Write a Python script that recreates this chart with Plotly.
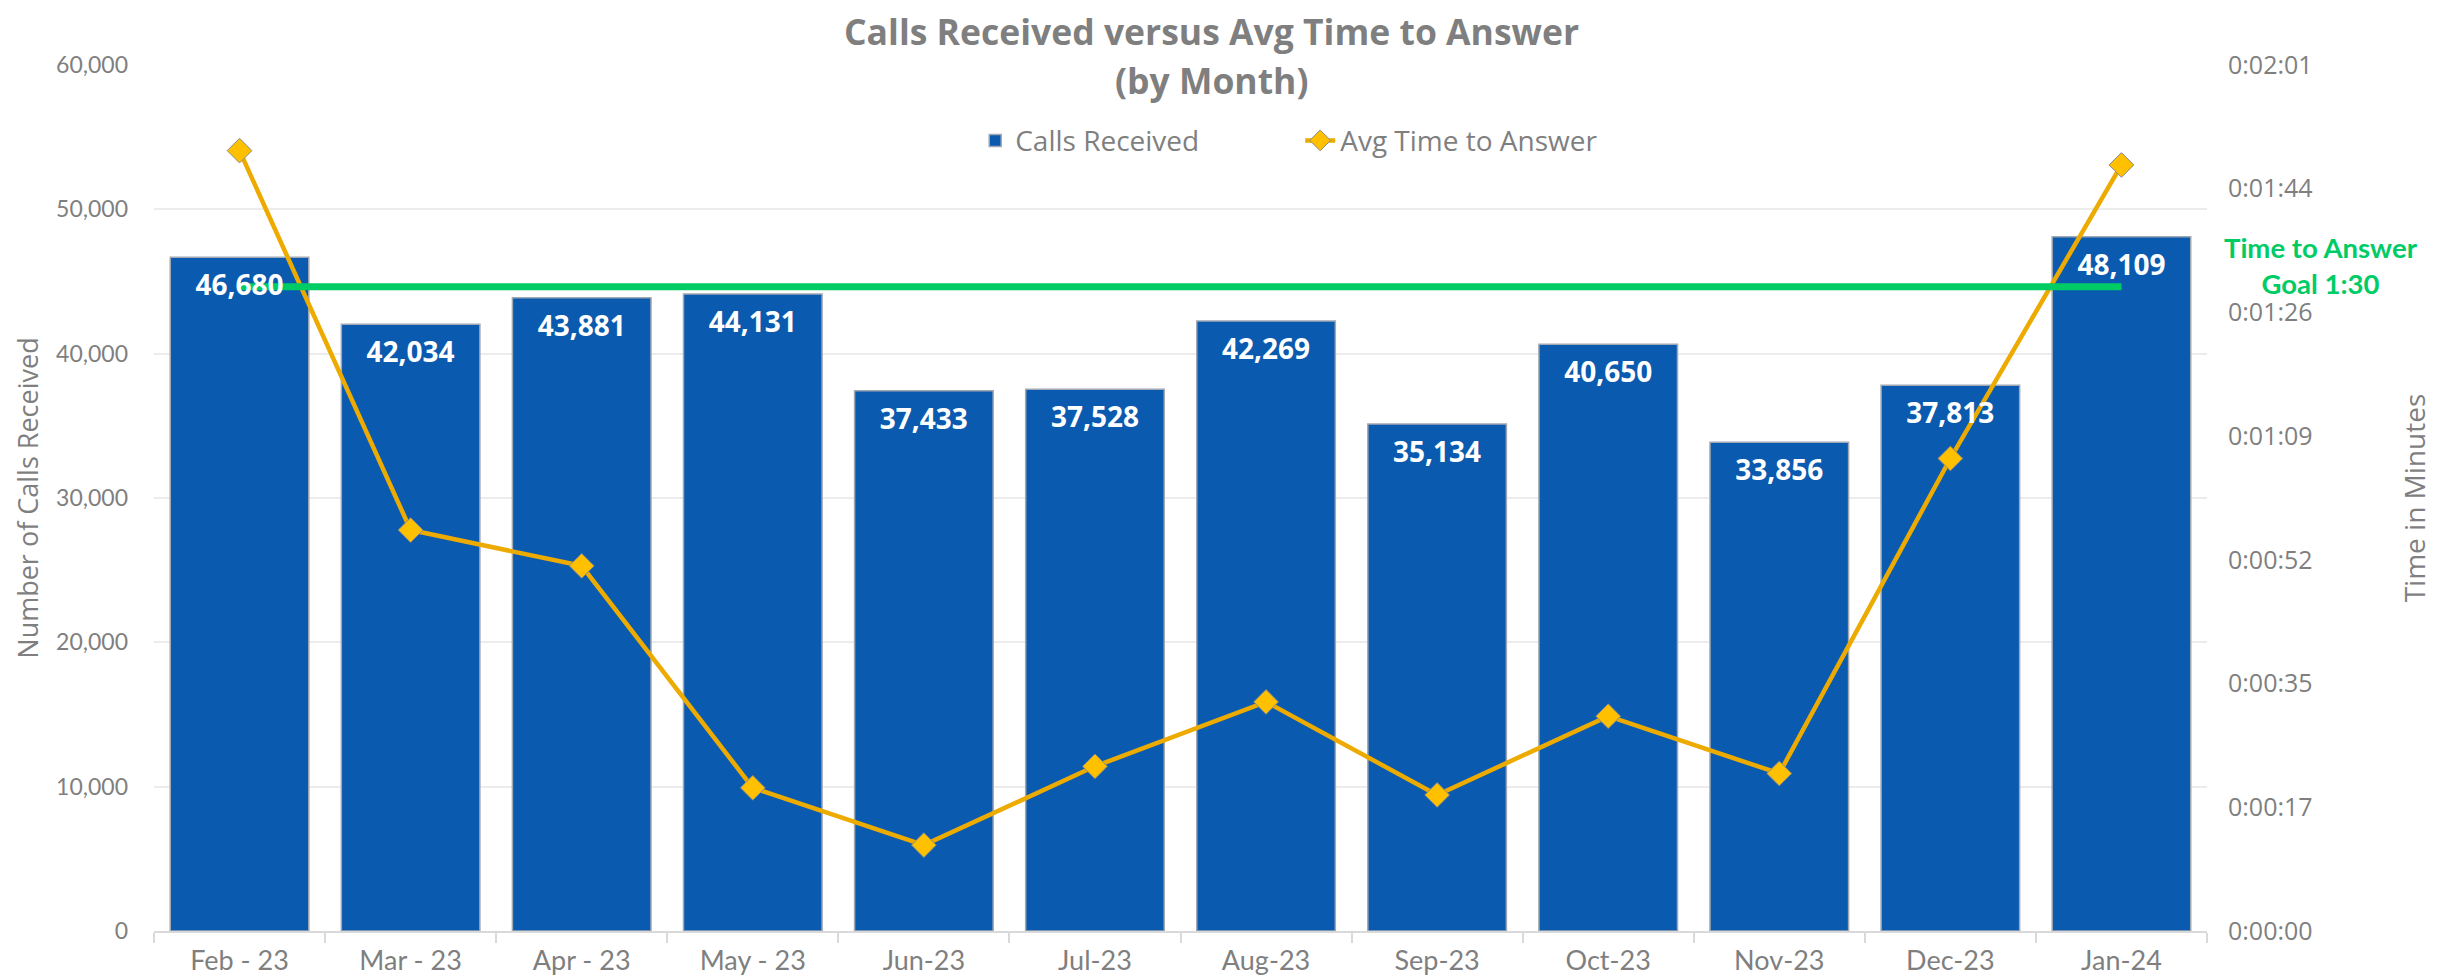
import plotly.graph_objects as go

# ---------------- data ----------------
months = ["Feb - 23", "Mar - 23", "Apr - 23", "May - 23", "Jun-23", "Jul-23",
          "Aug-23", "Sep-23", "Oct-23", "Nov-23", "Dec-23", "Jan-24"]
calls_received = [46680, 42034, 43881, 44131, 37433, 37528,
                  42269, 35134, 40650, 33856, 37813, 48109]
avg_time_seconds = [109, 56, 51, 20, 12, 23, 32, 19, 30, 22, 66, 107]
goal_seconds = 90
goal_span = [months[0], months[-1]]
left_tick_values = [0, 10000, 20000, 30000, 40000, 50000, 60000]
right_tick_labels = ["0:00:00", "0:00:17", "0:00:35", "0:00:52",
                     "0:01:09", "0:01:26", "0:01:44", "0:02:01"]
right_tick_step = 17.28  # Excel major unit (0.0002 day) in seconds
title_lines = ["Calls Received versus Avg Time to Answer", "(by Month)"]
goal_text = "Time to Answer<br>Goal 1:30"

# ---------------- style ----------------
GRAY = "#7f7f7f"
BAR = "#0a5aaf"
AMBER = "#edab00"
GOLD = "#ffc000"
GREEN = "#00cc66"
CAL = "Lato, 'Open Sans', sans-serif"
SEG = "'Open Sans', 'Noto Sans', sans-serif"

right_max = right_tick_step * (len(right_tick_labels) - 1)
label_drop = 2150  # push labels down inside the bar tops (axis units)

fig = go.Figure()

fig.add_trace(go.Bar(
    x=months, y=calls_received, name="Calls Received",
    marker=dict(color=BAR, line=dict(color="#a0a8b4", width=1.5)),
    hoverinfo="x+y",
))

fig.add_trace(go.Scatter(
    x=months, y=avg_time_seconds, name="Avg Time to Answer", yaxis="y2",
    mode="lines+markers",
    line=dict(color=AMBER, width=4.5),
    marker=dict(symbol="diamond", size=19, color=GOLD,
                line=dict(color="#8a8a8a", width=1)),
))

fig.add_trace(go.Scatter(
    x=goal_span, y=[goal_seconds, goal_seconds], yaxis="y2",
    mode="lines", line=dict(color=GREEN, width=7),
    showlegend=False, hoverinfo="skip",
))

fig.add_trace(go.Scatter(
    x=months, y=calls_received, yaxis="y3", mode="text",
    text=[f"{v:,}" for v in calls_received],
    textposition="middle center",
    textfont=dict(family=SEG, size=28, color="white", weight="bold"),
    showlegend=False, hoverinfo="skip", cliponaxis=False,
))

annotations = [
    dict(text=title_lines[0], xref="paper", x=0.5149, xanchor="center",
         yref="paper", y=1.0396, yanchor="middle", showarrow=False,
         font=dict(family=SEG, size=35.5, color=GRAY, weight="bold")),
    dict(text=title_lines[1], xref="paper", x=0.5149, xanchor="center",
         yref="paper", y=0.9825, yanchor="middle", showarrow=False,
         font=dict(family=SEG, size=35.5, color=GRAY, weight="bold")),
    dict(text=goal_text, xref="paper", x=1.0555, xanchor="center",
         yref="paper", y=0.769, yanchor="middle", showarrow=False,
         align="center",
         font=dict(family=CAL, size=27.5, color=GREEN, weight="bold")),
]

fig.update_layout(
    width=2450, height=980, autosize=False,
    margin=dict(l=146, r=251, t=57, b=57, autoexpand=False),
    paper_bgcolor="white", plot_bgcolor="white",
    bargap=0.19,
    legend=dict(
        orientation="h", x=0.400, xanchor="left", y=0.9126, yanchor="middle",
        font=dict(family=SEG, size=28, color=GRAY),
        bgcolor="rgba(0,0,0,0)", entrywidth=280, entrywidthmode="pixels",
    ),
    xaxis=dict(
        type="category", range=[-0.5, len(months) - 0.5],
        showline=True, linecolor="#d9d9d9", linewidth=1.5,
        ticks="outside", ticklen=10, tickcolor="#d9d9d9", tickwidth=1.5,
        tickson="boundaries", showgrid=False,
        tickfont=dict(family=CAL, size=27, color=GRAY),
        ticklabelstandoff=5,
    ),
    yaxis=dict(
        range=[0, 60000], tickvals=left_tick_values, tickformat=",d",
        showgrid=True, gridcolor="#ececec", gridwidth=1.5,
        showline=False, zeroline=False, ticks="",
        tickfont=dict(family=CAL, size=23, color=GRAY),
        ticklabelstandoff=25,
        title=dict(text="Number of Calls Received", standoff=9,
                   font=dict(family=SEG, size=27, color=GRAY)),
        automargin=False,
    ),
    yaxis2=dict(
        overlaying="y", side="right", range=[0, right_max],
        tickvals=[i * right_tick_step for i in range(len(right_tick_labels))],
        ticktext=right_tick_labels,
        showgrid=False, zeroline=False, showline=False, ticks="",
        tickfont=dict(family=SEG, size=25, color=GRAY),
        ticklabelstandoff=20,
        title=dict(text="Time in Minutes", standoff=93,
                   font=dict(family=SEG, size=28, color=GRAY)),
        automargin=False,
    ),
    yaxis3=dict(
        overlaying="y", range=[label_drop, 60000 + label_drop],
        visible=False, fixedrange=True,
    ),
    annotations=annotations,
)

fig.write_html("out.html")
